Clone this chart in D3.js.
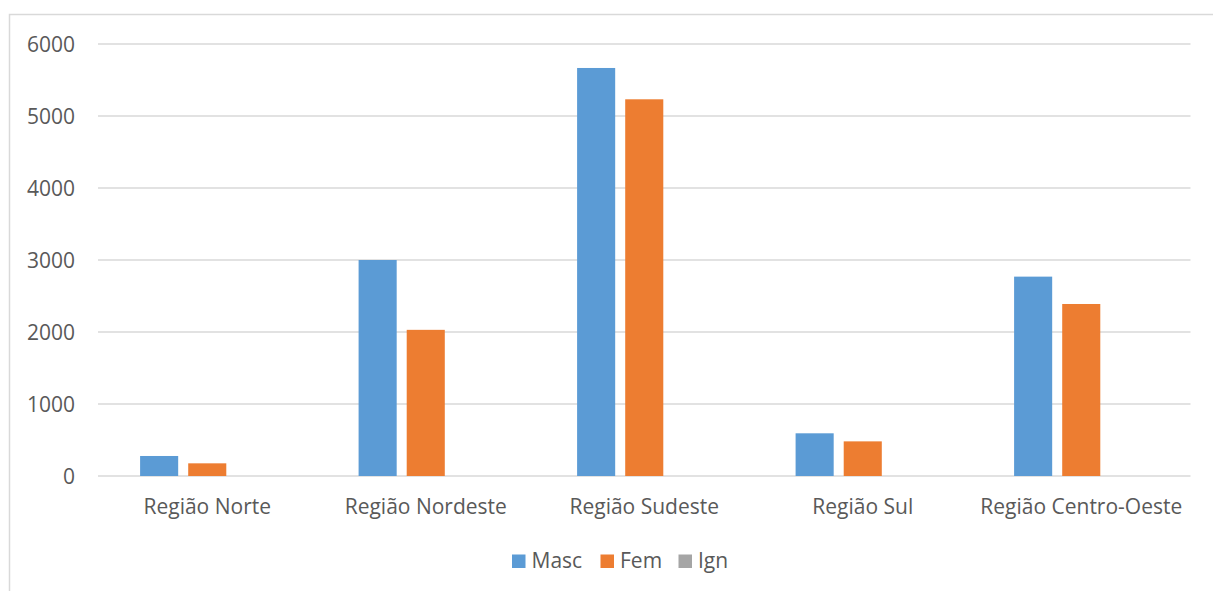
<!DOCTYPE html>
<html>
<head>
<meta charset="utf-8">
<script src="https://cdn.jsdelivr.net/npm/d3@7"></script>
<style>
  html, body { margin: 0; padding: 0; background: #fff; }
  svg { display: block; }
  text { font-family: "Open Sans", "Noto Sans", sans-serif; fill: #595959; }
</style>
</head>
<body>
<svg id="chart" width="1213" height="591"></svg>
<script>
// Casos por região e sexo
const regions = ["Região Norte", "Região Nordeste", "Região Sudeste", "Região Sul", "Região Centro-Oeste"];
const seriesNames = ["Masc", "Fem", "Ign"];
const seriesColors = ["#5B9BD5", "#ED7D31", "#A5A5A5"];
const masc = [278, 3000, 5667, 593, 2769];
const fem = [176, 2030, 5232, 481, 2389];
const ign = [0, 0, 0, 0, 0];
const yTicks = [0, 1000, 2000, 3000, 4000, 5000, 6000];

const seriesValues = [masc, fem, ign];

const svg = d3.select("#chart");
const W = 1213, H = 591;
const plot = { left: 98, right: 1190.5, top: 44, bottom: 476 };
const fontSize = "21px";

// Outer chart frame (only its top and left edges fall inside the view)
svg.append("rect")
  .attr("x", 9.5).attr("y", 14.5)
  .attr("width", W + 20).attr("height", H + 20)
  .attr("fill", "none").attr("stroke", "#d9d9d9").attr("stroke-width", 1.5);

const x = d3.scaleBand().domain(regions).range([plot.left, plot.right]).paddingInner(0).paddingOuter(0);
const xs = d3.scaleBand().domain(seriesNames).range([0, x.bandwidth()]).paddingInner(0.2083).paddingOuter(0.875);
const y = d3.scaleLinear().domain([0, 6000]).range([plot.bottom, plot.top]);

// Horizontal gridlines
svg.append("g")
  .selectAll("line")
  .data(yTicks)
  .join("line")
  .attr("x1", plot.left).attr("x2", plot.right)
  .attr("y1", d => y(d)).attr("y2", d => y(d))
  .attr("stroke", "#d9d9d9").attr("stroke-width", 1.5);

// Y axis labels
const yAxis = d3.axisLeft(y).tickValues(yTicks).tickSize(0).tickPadding(0).tickFormat(d3.format("d"));
const yg = svg.append("g").attr("transform", `translate(75,0)`).call(yAxis);
yg.select(".domain").remove();
yg.selectAll("text")
  .attr("font-family", null)
  .style("font-size", fontSize)
  .attr("dy", "0.36em");

// Bars
const groups = svg.append("g")
  .selectAll("g")
  .data(regions)
  .join("g")
  .attr("transform", d => `translate(${x(d)},0)`);

groups.selectAll("rect")
  .data((d, i) => seriesNames.map((s, k) => ({ s, k, v: seriesValues[k][i] })))
  .join("rect")
  .attr("x", d => xs(d.s))
  .attr("width", xs.bandwidth())
  .attr("y", d => y(d.v))
  .attr("height", d => y(0) - y(d.v))
  .attr("fill", d => seriesColors[d.k]);

// X axis labels
const xAxis = d3.axisBottom(x).tickSize(0).tickPadding(0);
const xg = svg.append("g").attr("transform", `translate(0,514)`).call(xAxis);
xg.select(".domain").remove();
xg.selectAll("text")
  .attr("font-family", null)
  .attr("dy", 0)
  .style("font-size", fontSize);

// Legend
const legendItems = [
  { name: "Masc", x: 512 },
  { name: "Fem", x: 600.5 },
  { name: "Ign", x: 678.5 }
];
const lg = svg.append("g");
legendItems.forEach((it, k) => {
  lg.append("rect")
    .attr("x", it.x).attr("y", 554.5)
    .attr("width", 13.5).attr("height", 13.5)
    .attr("fill", seriesColors[k]);
  lg.append("text")
    .attr("x", it.x + 19.5).attr("y", 568)
    .style("font-size", fontSize)
    .text(it.name);
});
</script>
</body>
</html>
